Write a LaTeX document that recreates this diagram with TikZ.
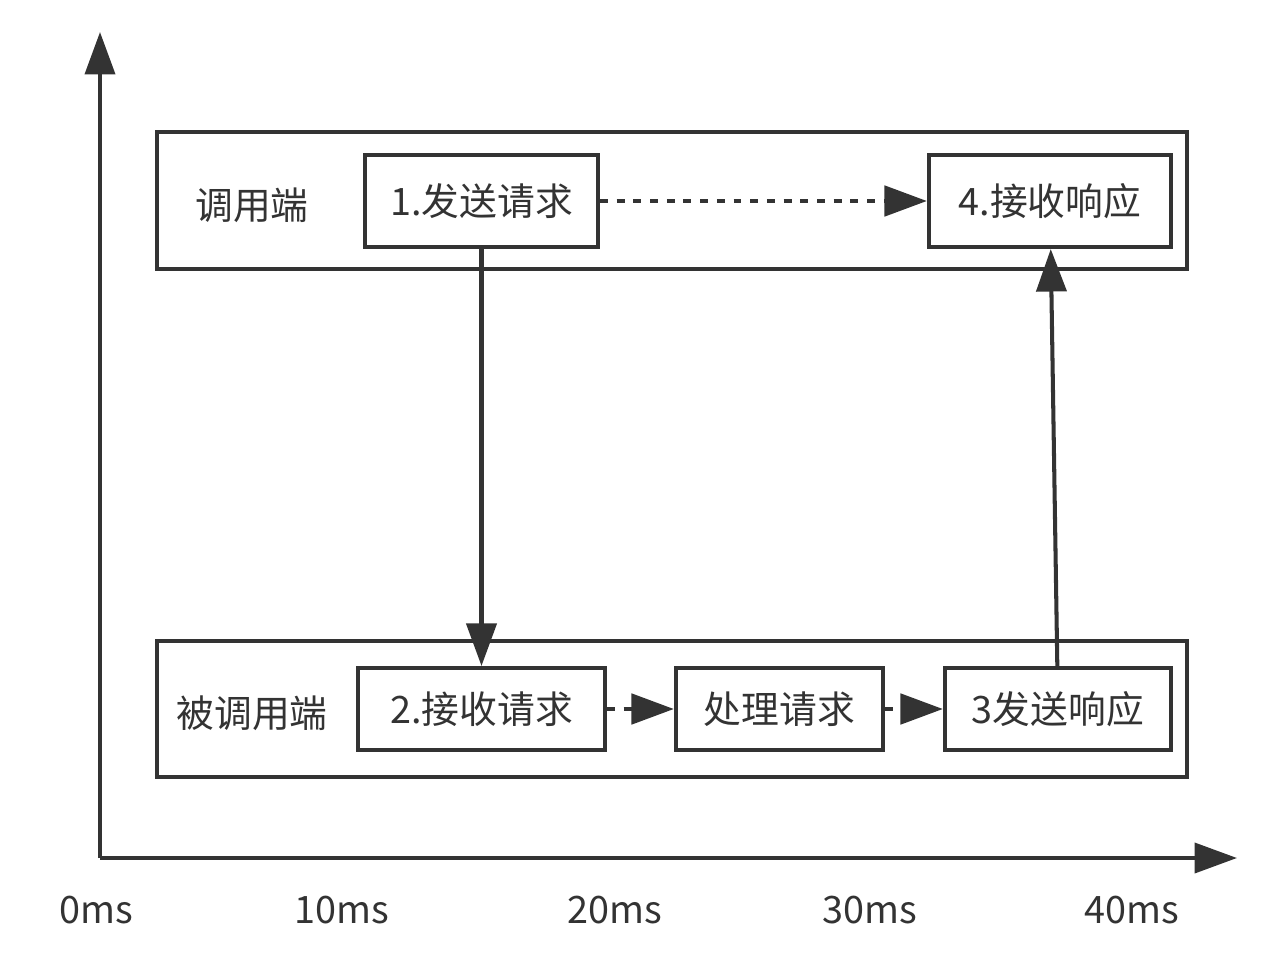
\documentclass[tikz,border=0pt]{standalone}
\usepackage{fontspec}
\setmainfont{Noto Sans CJK SC}
\usetikzlibrary{arrows.meta, positioning}
\definecolor{ink}{HTML}{333333}

\begin{document}
\begin{tikzpicture}[
    x=0.02cm, y=-0.02cm,
    font=\fontsize{21.5}{25}\selectfont, text=ink,
    frame/.style={draw=ink, line width=2.3pt},
    stepbox/.style={draw=ink, line width=2.3pt, inner sep=0pt},
    link/.style={draw=ink, line width=2.3pt, -{Triangle[length=0.85cm, width=0.6cm]}},
    wait/.style={link, line width=2.8pt, dash pattern=on 4.5pt off 5pt}
]
    \useasboundingbox (0,0) rectangle (1286,954);

    % Axes
    \coordinate (O) at (100,858);
    \coordinate (Ytip) at (100,32);
    \coordinate (Xtip) at (1237,858);
    \draw[link] (O) -- (Ytip);
    \draw[link] (O) -- (Xtip);

    % Time labels
    \node (t0) at (96,910) {0ms};
    \node (t10) at (342,910) {10ms};
    \node (t20) at (615,910) {20ms};
    \node (t30) at (870,910) {30ms};
    \node (t40) at (1132,910) {40ms};

    % Lanes
    \node[frame, minimum width=1030*0.02cm, minimum height=137*0.02cm] (caller) at (672,200.5) {};
    \node[frame, minimum width=1030*0.02cm, minimum height=136*0.02cm] (callee) at (672,709) {};
    \node (callerlbl) at (252,205) {调用端};
    \node (calleelbl) at (252,713) {被调用端};

    % Steps
    \node[stepbox, minimum width=233*0.02cm, minimum height=92*0.02cm] (send) at (481.5,201) {\raisebox{-1.5pt}{1.发送请求}};
    \node[stepbox, minimum width=242*0.02cm, minimum height=92*0.02cm] (recv) at (1050,201) {\raisebox{-1.5pt}{4.接收响应}};
    \node[stepbox, minimum width=247*0.02cm, minimum height=82*0.02cm] (accept) at (481.5,709) {\raisebox{-1.5pt}{2.接收请求}};
    \node[stepbox, minimum width=207*0.02cm, minimum height=82*0.02cm] (work) at (779.5,709) {\raisebox{-1.5pt}{处理请求}};
    \node[stepbox, minimum width=226*0.02cm, minimum height=82*0.02cm] (reply) at (1058,709) {\raisebox{-1.5pt}{3发送响应}};

    % Calls
    \draw[link] (send) -- (accept);
    \draw[link] (reply) -- (recv);
    \draw[wait] (send) -- (recv);
    \draw[wait] (accept) -- (work);
    \draw[wait] (work) -- (reply);
\end{tikzpicture}
\end{document}
